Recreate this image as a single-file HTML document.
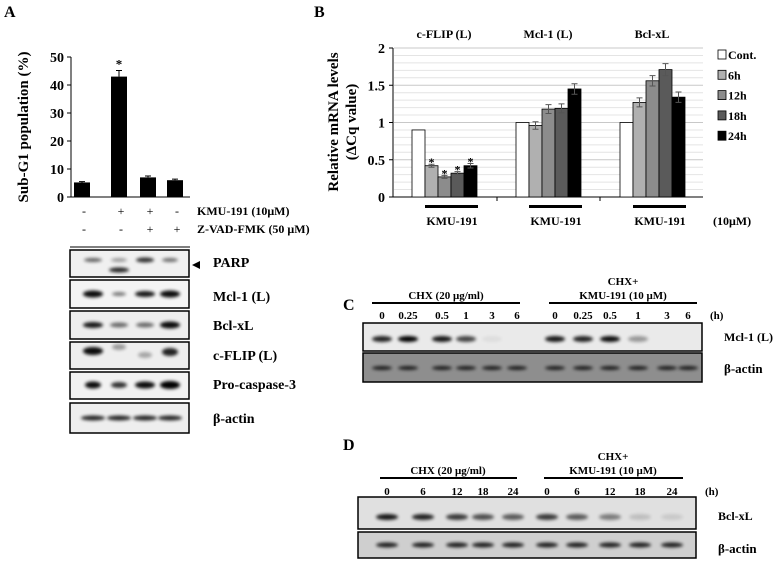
<!DOCTYPE html>
<html><head><meta charset="utf-8"><style>
body{margin:0;background:#fff}
svg{display:block;font-family:"Liberation Serif",serif;font-weight:bold}
</style></head><body>
<svg id="fig" width="779" height="565" viewBox="0 0 779 565">
<defs>
<filter id="bl" x="-50%" y="-200%" width="200%" height="500%"><feGaussianBlur stdDeviation="1.6"/></filter>
</defs>
<text x="4" y="17" font-size="16">A</text>
<text x="314" y="17" font-size="16">B</text>
<text x="343" y="310" font-size="16">C</text>
<text x="343" y="450" font-size="16">D</text>
<g id="chartA"></g>
<g id="chartB"></g>
<g id="blots"></g>
</svg>
<script>
// Panel A data
const aCats = ["ctrl","kmu","kmu+zvad","zvad"];
const aVals = [5.2, 43, 7, 6];
const aErr = [0.3, 2.2, 0.5, 0.4];
const aTicks = [0,10,20,30,40,50];
const aSig = [false,true,false,false];
const aKmu = ["-","+","+","-"];
const aZvad = ["-","-","+","+"];
// Panel B data
const bGroups = ["c-FLIP (L)","Mcl-1 (L)","Bcl-xL"];
const bSeries = ["Cont.","6h","12h","18h","24h"];
const bVals = [[0.9,0.42,0.27,0.32,0.42],[1,0.96,1.18,1.19,1.45],[1,1.27,1.56,1.71,1.34]];
const bErr = [[0,0.02,0.02,0.02,0.03],[0,0.05,0.06,0.06,0.07],[0,0.06,0.07,0.08,0.07]];
const bSig = [[false,true,true,true,true],[false,false,false,false,false],[false,false,false,false,false]];
const bTicks = [0,0.5,1,1.5,2];
const bTickLabels = ["0","0.5","1","1.5","2"];

const NS="http://www.w3.org/2000/svg";
function mk(p,tag,at,txt){const e=document.createElementNS(NS,tag);for(const k in at)e.setAttribute(k,at[k]);if(txt!==undefined)e.textContent=txt;p.appendChild(e);return e;}

// ---- Chart A
const gA=document.getElementById('chartA');
const yA=v=>197-(v/50)*140;
const xA=i=>[82,119,148,175][i];
mk(gA,'line',{x1:71,y1:57,x2:71,y2:197,stroke:'#000','stroke-width':1});
mk(gA,'line',{x1:71,y1:197,x2:190,y2:197,stroke:'#000','stroke-width':1});
aTicks.forEach(t=>{
 const l=mk(gA,'line',{x1:67,y1:yA(t),x2:71,y2:yA(t),stroke:'#000'});
 
 
 const tx=mk(gA,'text',{x:64,y:yA(t)+5,'font-size':14,'text-anchor':'end'},String(t));
 
 
});
const ta=mk(gA,'text',{x:0,y:0,'font-size':15,'text-anchor':'middle',transform:'translate(28,127) rotate(-90)'},'Sub-G1 population (%)');


aVals.forEach((v,i)=>{
 const b=mk(gA,'rect',{x:xA(i)-8,y:yA(v),width:16,height:197-yA(v),fill:'#000'});
 
 
 const e=mk(gA,'path',{d:`M${xA(i)} ${yA(v)} V${yA(v+aErr[i])} M${xA(i)-3} ${yA(v+aErr[i])} H${xA(i)+3}`,stroke:'#000',fill:'none'});
 
 
 if(aSig[i]){const s=mk(gA,'text',{x:xA(i),y:yA(v+aErr[i])-2,'font-size':13,'text-anchor':'middle'},'*');
  
  }
 const k=mk(gA,'text',{x:xA(i)+2,y:215,'font-size':12,'text-anchor':'middle','font-weight':'normal'},aKmu[i]);
 
 
 const z=mk(gA,'text',{x:xA(i)+2,y:233,'font-size':12,'text-anchor':'middle','font-weight':'normal'},aZvad[i]);
 
 
});
mk(gA,'text',{x:197,y:215,'font-size':12},'KMU-191 (10μM)');
mk(gA,'text',{x:197,y:233,'font-size':12},'Z-VAD-FMK (50 μM)');
mk(gA,'line',{x1:70,y1:247,x2:190,y2:247,stroke:'#000','stroke-width':1});

// ---- Chart B
const gB=document.getElementById('chartB');
const yB=v=>197-(v/2)*149;
const gx=[412,516,620];
const bw=13;
const colors=['#fff','#b0b0b0','#8c8c8c','#5a5a5a','#000'];
for(let k=1;k<=20;k++){mk(gB,'line',{x1:394,y1:yB(k*0.1),x2:703,y2:yB(k*0.1),stroke:k%5==0?'#c8c8c8':'#e4e4e4','stroke-width':1});}
mk(gB,'line',{x1:393,y1:48,x2:393,y2:197,stroke:'#000'});
mk(gB,'line',{x1:393,y1:197,x2:703,y2:197,stroke:'#000'});
[497,600].forEach(x=>mk(gB,'line',{x1:x,y1:197,x2:x,y2:201,stroke:'#000'}));
bTicks.forEach((t,i)=>{
 mk(gB,'line',{x1:389,y1:yB(t),x2:393,y2:yB(t),stroke:'#000'});
 const tx=mk(gB,'text',{x:385,y:yB(t)+5,'font-size':14,'text-anchor':'end'},bTickLabels[i]);
 
 
});
const tb1=mk(gB,'text',{x:0,y:0,'font-size':15,'text-anchor':'middle',transform:'translate(338,122) rotate(-90)'},'Relative mRNA levels');


const tb2=mk(gB,'text',{x:0,y:0,'font-size':15,'text-anchor':'middle',transform:'translate(356,122) rotate(-90)'},'(ΔCq value)');


bGroups.forEach((g,gi)=>{
 const t=mk(gB,'text',{x:gx[gi]+32,y:38,'font-size':12,'text-anchor':'middle'},g);
 
 
 bVals[gi].forEach((v,si)=>{
  const x=gx[gi]+si*bw;
  const r=mk(gB,'rect',{x:x,y:yB(v),width:bw,height:197-yB(v),fill:colors[si],stroke:'#000','stroke-width':0.8});
  
  
  if(bErr[gi][si]>0){const cx=x+bw/2,t1=yB(v+bErr[gi][si]),t2=yB(v-bErr[gi][si]);
   const e=mk(gB,'path',{d:`M${cx} ${t1} V${t2} M${cx-3} ${t1} H${cx+3} M${cx-3} ${t2} H${cx+3}`,stroke:'#555',fill:'none'});
   
   }
  if(bSig[gi][si]){const s=mk(gB,'text',{x:x+bw/2,y:yB(v+bErr[gi][si])+2,'font-size':12,'text-anchor':'middle'},'*');
   
   }
 });
 mk(gB,'rect',{x:gx[gi]+13,y:205,width:53,height:3,fill:'#000'});
 const k=mk(gB,'text',{x:gx[gi]+40,y:225,'font-size':12,'text-anchor':'middle'},'KMU-191');
 
 
});
mk(gB,'text',{x:713,y:225,'font-size':12},'(10μM)');
bSeries.forEach((s,i)=>{
 const y=50+i*20.3;
 const r=mk(gB,'rect',{x:718,y:y,width:8,height:9,fill:colors[i],stroke:'#000','stroke-width':0.8});
 
 
 const t=mk(gB,'text',{x:728,y:y+9,'font-size':12},s);
 
 
});

// ---- Blots
const gK=document.getElementById('blots');
function blot(x,y,w,h,bg,bands,name){
 const r=mk(gK,'rect',{x:x,y:y,width:w,height:h,fill:bg,stroke:'#000','stroke-width':1.5});
 
 
 bands.forEach(b=>mk(gK,'ellipse',{cx:b[0],cy:b[1],rx:b[2],ry:b[3],fill:'#000',opacity:b[4],filter:'url(#bl)'}));
}
const aL=[93,119,145,170];
blot(70,250,119,27,'#f0f0f0',[[aL[0],260,9,2,.6],[aL[1],260,8,2,.35],[aL[1],270,10,2.5,.85],[aL[2],260,9,2.5,.8],[aL[3],260,8,2,.55]],'parp-blot');
blot(70,280,119,28,'#f4f4f4',[[aL[0],294,10,3.5,.95],[aL[1],294,7,2,.5],[aL[2],294,10,3,.9],[aL[3],294,10,3.5,.95]],'mcl1-blot');
blot(70,311,119,28,'#eee',[[aL[0],325,10,3,.9],[aL[1],325,9,2.5,.55],[aL[2],325,9,2.5,.55],[aL[3],325,10,3.5,.95]],'bclxl-blot');
blot(70,342,119,27,'#eee',[[aL[0],351,10,4,.95],[aL[1],347,7,3,.35],[aL[2],355,7,3,.3],[aL[3],352,8,4,.85]],'cflip-blot');
blot(70,372,119,27,'#f2f2f2',[[aL[0],385,8,3.5,.95],[aL[1],385,8,3,.8],[aL[2],385,10,3.5,.95],[aL[3],385,10,4,1]],'procaspase3-blot');
blot(70,403,119,30,'#eee',[[aL[0],418,12,2.5,.85],[aL[1],418,12,2.5,.85],[aL[2],418,12,2.5,.85],[aL[3],418,12,2.5,.85]],'bactin-blot-a');
mk(gK,'path',{d:'M192 265 L200 261 L200 269 Z',fill:'#000'});
[['PARP',262],['Mcl-1 (L)',296],['Bcl-xL',325],['c-FLIP (L)',355],['Pro-caspase-3',384],['β-actin',418]].forEach(l=>{
 const t=mk(gK,'text',{x:213,y:l[1]+5,'font-size':14},l[0]);
 
 
});
// Panel C
const cLanes=["0","0.25","0.5","1","3","6","0","0.25","0.5","1","3","6"];
const cX=[382,408,442,466,492,517,555,583,610,638,667,688];
const cMcl=[.85,1,.9,.7,.05,0,.9,.85,.95,.35,0,0];
mk(gK,'line',{x1:372,y1:303,x2:520,y2:303,stroke:'#000','stroke-width':2});
mk(gK,'line',{x1:549,y1:303,x2:697,y2:303,stroke:'#000','stroke-width':2});
mk(gK,'text',{x:446,y:299,'font-size':11,'text-anchor':'middle'},'CHX (20 μg/ml)');
mk(gK,'text',{x:623,y:285,'font-size':11,'text-anchor':'middle'},'CHX+');
mk(gK,'text',{x:623,y:299,'font-size':11,'text-anchor':'middle'},'KMU-191 (10 μM)');
cLanes.forEach((l,i)=>{const t=mk(gK,'text',{x:cX[i],y:319,'font-size':11,'text-anchor':'middle'},l);
 
 });
mk(gK,'text',{x:710,y:319,'font-size':11},'(h)');
blot(363,323,339,28,'#eaeaea',cX.map((x,i)=>[x,339,10,3,cMcl[i]]),'mcl1-chx-blot');
blot(363,353,339,29,'#8e8e8e',cX.map(x=>[x,368,10,2,.8]),'bactin-blot-c');
mk(gK,'text',{x:724,y:341,'font-size':12},'Mcl-1 (L)');
mk(gK,'text',{x:724,y:373,'font-size':13},'β-actin');
// Panel D
const dLanes=["0","6","12","18","24","0","6","12","18","24"];
const dX=[387,423,457,483,513,547,577,610,640,672];
const dBcl=[.9,.85,.75,.65,.6,.75,.6,.45,.15,.1];
mk(gK,'line',{x1:380,y1:478,x2:517,y2:478,stroke:'#000','stroke-width':2});
mk(gK,'line',{x1:544,y1:478,x2:683,y2:478,stroke:'#000','stroke-width':2});
mk(gK,'text',{x:448,y:474,'font-size':11,'text-anchor':'middle'},'CHX (20 μg/ml)');
mk(gK,'text',{x:613,y:460,'font-size':11,'text-anchor':'middle'},'CHX+');
mk(gK,'text',{x:613,y:474,'font-size':11,'text-anchor':'middle'},'KMU-191 (10 μM)');
dLanes.forEach((l,i)=>{const t=mk(gK,'text',{x:dX[i],y:495,'font-size':11,'text-anchor':'middle'},l);
 
 });
mk(gK,'text',{x:705,y:495,'font-size':11},'(h)');
blot(358,497,338,32,'#e0e0e0',dX.map((x,i)=>[x,517,11,3,dBcl[i]]),'bclxl-chx-blot');
blot(358,532,338,26,'#cfcfcf',dX.map(x=>[x,545,11,2.5,.85]),'bactin-blot-d');
mk(gK,'text',{x:718,y:520,'font-size':12},'Bcl-xL');
mk(gK,'text',{x:718,y:553,'font-size':13},'β-actin');
</script>
</body></html>
